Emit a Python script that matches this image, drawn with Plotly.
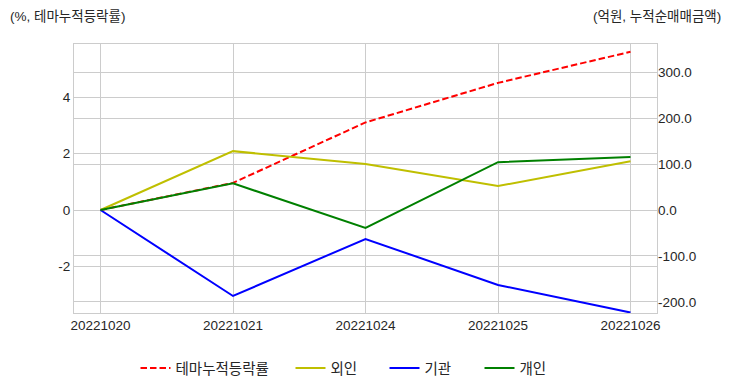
import plotly.graph_objects as go

dates = ["20221020", "20221021", "20221024", "20221025", "20221026"]
theme_rate = [0.0, 0.96, 3.1, 4.5, 5.6]
foreign = [0.0, 128.0, 100.0, 52.0, 106.0]
institution = [0.0, -187.0, -63.0, -163.0, -223.0]
individual = [0.0, 58.0, -39.0, 104.0, 115.0]

left_ticks = [-2, 0, 2, 4]
left_ticktext = ["-2", "0", "2", "4"]
right_ticks = [-200, -100, 0, 100, 200, 300]
right_ticktext = ["-200.0", "-100.0", "0.0", "100.0", "200.0", "300.0"]

FONT = "Liberation Sans, Arial, Noto Sans CJK KR, sans-serif"
GRID = "#cccccc"
TXT = "#262626"

# page offset of the plot div (body margin)
OFF = 8
W, H = 732 - OFF, 392 - OFF
L, T, PW, PH = 74 - OFF, 44 - OFF, 583, 269
R = W - L - PW
B = H - T - PH

fig = go.Figure()
fig.add_trace(go.Scatter(x=dates, y=theme_rate, name="테마누적등락률", mode="lines",
                         line=dict(color="#ff0000", width=2, dash="6.5px,3px"), yaxis="y",
                         legend="legend"))
fig.add_trace(go.Scatter(x=dates, y=foreign, name="외인", mode="lines",
                         line=dict(color="#bfbf00", width=2), yaxis="y2", legend="legend2"))
fig.add_trace(go.Scatter(x=dates, y=institution, name="기관", mode="lines",
                         line=dict(color="#0000ff", width=2), yaxis="y2", legend="legend3"))
fig.add_trace(go.Scatter(x=dates, y=individual, name="개인", mode="lines",
                         line=dict(color="#008000", width=2), yaxis="y2", legend="legend4"))

def leg(page_x):
    return dict(orientation="h", xref="container", yref="container",
                x=(page_x - OFF) / W, xanchor="left", y=(H - (368 - OFF)) / H, yanchor="middle",
                font=dict(size=14.5, color=TXT), bgcolor="rgba(0,0,0,0)", borderwidth=0)

fig.update_layout(
    width=W, height=H,
    margin=dict(l=L, r=R, t=T, b=B, autoexpand=False),
    paper_bgcolor="white", plot_bgcolor="white",
    font=dict(family=FONT, size=13.5, color=TXT),
    xaxis=dict(type="category", range=[-0.2, 4.2], showgrid=True, gridcolor=GRID, gridwidth=1,
               showline=True, linecolor=GRID, linewidth=1.2, mirror=True, ticks="",
               tickfont=dict(size=13.5, color=TXT), zeroline=False),
    yaxis=dict(range=[-3.646, 5.876], tickvals=left_ticks, ticktext=left_ticktext,
               showgrid=True, gridcolor=GRID, gridwidth=1, zeroline=False,
               showline=True, linecolor=GRID, linewidth=1.2, mirror=True, ticks="",
               tickfont=dict(size=13.5, color=TXT)),
    yaxis2=dict(range=[-224, 361], overlaying="y", side="right", tickvals=right_ticks,
                ticktext=right_ticktext, showgrid=True, gridcolor=GRID, gridwidth=1,
                zeroline=False, showline=False, ticks="",
                tickfont=dict(size=13.5, color=TXT)),
    legend=leg(135.5),
    legend2=leg(290.5),
    legend3=leg(384.5),
    legend4=leg(479.5),
    showlegend=True,
    annotations=[
        dict(text="(%, 테마누적등락률)", xref="paper", yref="paper", x=(8 - OFF - L) / PW,
             y=(T + PH - (16 - OFF)) / PH, xanchor="left", yanchor="middle", showarrow=False,
             font=dict(size=13.5, color=TXT)),
        dict(text="(억원, 누적순매매금액)", xref="paper", yref="paper", x=(723 - OFF - L) / PW,
             y=(T + PH - (16 - OFF)) / PH, xanchor="right", yanchor="middle", showarrow=False,
             font=dict(size=13.5, color=TXT)),
    ],
)

fig.write_html("out.html")
